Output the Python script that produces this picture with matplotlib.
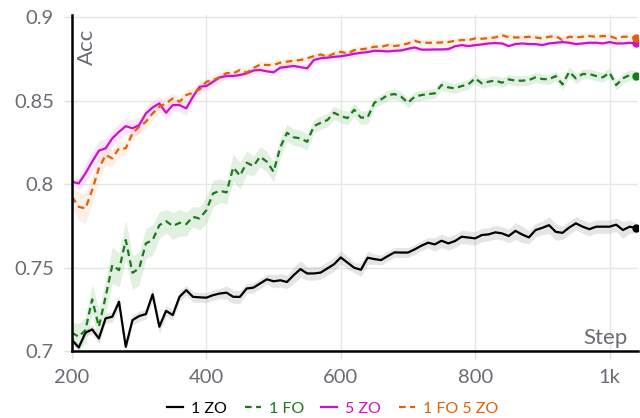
import numpy as np
import matplotlib
matplotlib.use("Agg")
import matplotlib.pyplot as plt

plt.rcParams['font.family'] = ['Lato', 'DejaVu Sans']

steps = list(range(200, 1041, 10))

zo1 = [.7066, .7022, .7110, .7130, .7076, .7196, .7206, .7295, .7026, .7186,
       .7210, .7222, .7340, .7146, .7241, .7216, .7325, .7365, .7325, .7322,
       .7320, .7335, .7345, .7350, .7325, .7325, .7375, .7380, .7405, .7430,
       .7418, .7424, .7414, .7455, .7491, .7465, .7465, .7470, .7495, .7520,
       .7561, .7530, .7499, .7487, .7559, .7551, .7545, .7569, .7591, .7590,
       .7590, .7609, .7631, .7649, .7639, .7661, .7645, .7659, .7685, .7680,
       .7675, .7695, .7699, .7711, .7705, .7689, .7720, .7698, .7681, .7725,
       .7738, .7754, .7714, .7708, .7740, .7765, .7745, .7730, .7745, .7745,
       .7745, .7757, .7725, .7745, .7737]

fo1 = [.7110, .7086, .7126, .7310, .7146, .7325, .7515, .7485, .7665, .7469,
       .7495, .7645, .7665, .7754, .7778, .7749, .7768, .7760, .7804, .7794,
       .7844, .7944, .7960, .7950, .8100, .8050, .8128, .8108, .8164, .8134,
       .8074, .8220, .8307, .8280, .8274, .8253, .8347, .8367, .8383, .8427,
       .8407, .8395, .8445, .8398, .8399, .8487, .8507, .8533, .8539, .8523,
       .8487, .8523, .8533, .8539, .8543, .8593, .8579, .8573, .8587, .8597,
       .8633, .8603, .8613, .8620, .8607, .8627, .8619, .8619, .8623, .8639,
       .8629, .8627, .8647, .8597, .8672, .8633, .8659, .8659, .8647, .8639,
       .8667, .8593, .8633, .8653, .8648]

zo5 = [.8014, .8004, .8064, .8134, .8200, .8214, .8274, .8313, .8347, .8334,
       .8353, .8423, .8459, .8483, .8427, .8473, .8473, .8453, .8523, .8583,
       .8587, .8613, .8639, .8647, .8647, .8653, .8663, .8680, .8683, .8675,
       .8669, .8697, .8702, .8707, .8700, .8693, .8743, .8753, .8757, .8762,
       .8765, .8772, .8780, .8786, .8790, .8798, .8797, .8794, .8798, .8800,
       .8810, .8818, .8805, .8805, .8806, .8806, .8808, .8825, .8832, .8826,
       .8832, .8836, .8842, .8844, .8842, .8826, .8838, .8842, .8838, .8838,
       .8832, .8842, .8846, .8850, .8846, .8838, .8842, .8846, .8846, .8842,
       .8850, .8842, .8842, .8846, .8842]

fo1zo5 = [.7924, .7864, .7854, .7964, .8094, .8174, .8154, .8214, .8214, .8304,
          .8343, .8373, .8423, .8463, .8483, .8513, .8493, .8533, .8547, .8567,
          .8613, .8623, .8640, .8665, .8663, .8683, .8667, .8695, .8715, .8713,
          .8713, .8727, .8733, .8738, .8743, .8753, .8766, .8776, .8762, .8782,
          .8792, .8782, .8802, .8807, .8812, .8822, .8822, .8832, .8826, .8832,
          .8842, .8858, .8846, .8846, .8846, .8848, .8850, .8858, .8862, .8862,
          .8872, .8870, .8874, .8878, .8892, .8878, .8878, .8878, .8882, .8878,
          .8872, .8882, .8886, .8862, .8882, .8878, .8882, .8886, .8882, .8886,
          .8886, .8872, .8882, .8882, .8872]

# half widths of the shaded bands
zo1_sd = [.002, .002, .002, .003, .003, .003, .003, .004, .003, .003,
          .003, .003, .004, .004, .003, .003, .003, .003, .003, .003,
          .003, .003, .003, .004, .004, .004, .003, .003, .003, .003,
          .004, .004, .004, .005, .005, .004, .004, .004, .004, .004,
          .004, .004, .003, .004, .004, .003, .003, .003, .003, .003,
          .003, .003, .003, .003, .004, .004, .004, .004, .004, .004,
          .004, .004, .004, .004, .004, .004, .005, .005, .004, .004,
          .004, .005, .005, .004, .004, .004, .004, .004, .004, .004,
          .004, .004, .005, .004, .003]
fo1_sd = [.006, .008, .008, .009, .010, .010, .011, .010, .012, .010,
          .010, .009, .009, .008, .007, .008, .008, .007, .006, .007,
          .008, .008, .007, .007, .008, .008, .007, .006, .006, .006,
          .006, .006, .005, .005, .005, .005, .004, .004, .004, .004,
          .004, .004, .004, .004, .004, .003, .003, .003, .003, .003,
          .003, .003, .003, .003, .003, .003, .003, .003, .003, .003,
          .003, .003, .003, .003, .003, .003, .003, .003, .003, .003,
          .003, .003, .003, .003, .003, .003, .003, .003, .003, .003,
          .003, .003, .003, .003, .003]
zo5_sd = [.002, .004, .006, .006, .006, .006, .005, .005, .005, .005,
          .005, .004, .004, .004, .004, .004, .004, .004, .003, .003,
          .003, .002, .002, .002, .002, .002, .002, .002, .002, .002,
          .002, .002, .002, .002, .002, .002, .002, .002, .002, .002,
          .002, .002, .002, .002, .002, .002, .002, .002, .0015, .0015,
          .0015, .0015, .0015, .0015, .0015, .0015, .0015, .0015, .0015, .0015,
          .0015, .0015, .0015, .0015, .0015, .0015, .0015, .0015, .0015, .0015,
          .0015, .0015, .0015, .0015, .0015, .0015, .0015, .0015, .0015, .0015,
          .0015, .0015, .0015, .0015, .0015]
fo1zo5_sd = [.006, .008, .009, .008, .007, .006, .005, .005, .004, .004,
             .004, .004, .004, .004, .004, .003, .003, .003, .003, .003,
             .003, .003, .003, .003, .002, .002, .002, .002, .002, .002,
             .002, .002, .002, .002, .002, .002, .002, .002, .002, .002,
             .002, .002, .002, .002, .002, .002, .002, .002, .002, .002,
             .002, .002, .002, .002, .002, .002, .002, .002, .002, .002,
             .002, .002, .002, .002, .002, .002, .002, .002, .002, .002,
             .002, .002, .002, .002, .002, .002, .002, .002, .002, .002,
             .002, .002, .002, .002, .002]

labels = ['1 ZO', '1 FO', '5 ZO', '1 FO 5 ZO']
colors = ['#000000', '#1a7a1a', '#cc11cc', '#e0600c']
bands = ['#9a9a9a', '#8fc48f', '#e8a6e8', '#f4c29a']
styles = ['-', '--', '-', '--']

fig = plt.figure(figsize=(6.4, 4.18), dpi=100)
ax = fig.add_axes([0.1125, 0.16, 0.885, 0.804])

x = np.array(steps)
for y, sd, c, bc, ls, lab in zip([zo1, fo1, zo5, fo1zo5],
                                 [zo1_sd, fo1_sd, zo5_sd, fo1zo5_sd],
                                 colors, bands, styles, labels):
    y = np.array(y)
    sd = np.array(sd)
    ax.fill_between(x, y - sd, y + sd, color=bc, alpha=0.25, lw=0)
    if ls == '--':
        ax.plot(x, y, color=c, lw=1.6, ls=(0, (3, 2)), label=lab)
    else:
        ax.plot(x, y, color=c, lw=1.6, label=lab)
    ax.plot(x[-1], y[-1], 'o', color=c, ms=5)

ax.set_xlim(200, 1043)
ax.set_ylim(0.7, 0.9012)
ax.set_xticks([200, 400, 600, 800, 1000])
ax.set_xticklabels(['200', '400', '600', '800', '1k'])
ax.set_yticks([0.7, 0.75, 0.8, 0.85, 0.9])
ax.set_yticklabels(['0.7', '0.75', '0.8', '0.85', '0.9'])
ax.grid(True, color='#e6e6e6', lw=1)
ax.set_axisbelow(True)
ax.tick_params(colors='#e0e0e0', labelcolor='#6b6b76', labelsize=14.5, length=6, width=1, pad=7)
for s in ['top', 'right']:
    ax.spines[s].set_visible(False)
for s in ['left', 'bottom']:
    ax.spines[s].set_linewidth(1.8)

ax.text(0.009, 0.96, 'Acc', transform=ax.transAxes, rotation=90,
        ha='left', va='top', fontsize=16, color='#6b6b76')
ax.text(0.981, 0.008, 'Step', transform=ax.transAxes,
        ha='right', va='bottom', fontsize=16, color='#6b6b76')

leg = ax.legend(loc='lower center', bbox_to_anchor=(0.46, -0.235), ncol=4,
                frameon=False, fontsize=11.5, handlelength=1.0, handletextpad=0.5,
                columnspacing=1.1)
for t, c in zip(leg.get_texts(), colors):
    t.set_color(c)

fig.savefig('out.png', dpi=100)
